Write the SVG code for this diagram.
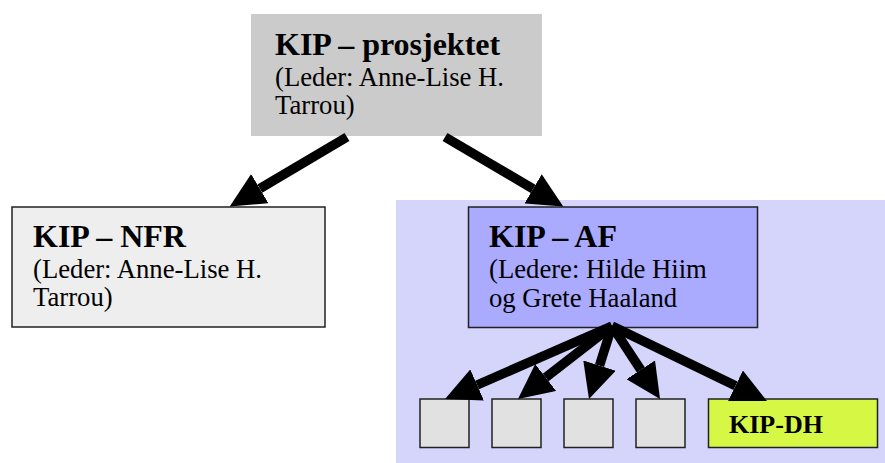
<svg xmlns="http://www.w3.org/2000/svg" width="885" height="463" viewBox="0 0 885 463">
<defs>
<style>
.t{font-family:"Liberation Serif","Times New Roman",serif;fill:#000}
.h{font-size:32px;font-weight:bold}
.s{font-size:26.7px}
.d{font-size:26px;font-weight:bold}
.box{stroke:#222;stroke-width:1.5}
.c{stroke:#000;stroke-width:9.5;fill:none;marker-end:url(#ah)}
</style>
<marker id="ah" markerUnits="userSpaceOnUse" viewBox="0 0 35 34" markerWidth="35" markerHeight="34" refX="0" refY="17" orient="auto">
<path d="M0,0 L35,17 L0,34 Z" fill="#000"/>
</marker>
</defs>
<rect x="0" y="0" width="885" height="463" fill="#fff"/>
<rect id="af-area" x="396" y="200" width="489" height="263" fill="#D5D5FC"/>
<g id="kip-prosjektet">
<rect x="251" y="14" width="291" height="122" fill="#CBCBCB"/>
<text class="t h" x="275" y="55">KIP – prosjektet</text>
<text class="t s" x="275" y="86">(Leder: Anne-Lise H.</text>
<text class="t s" x="275" y="114">Tarrou)</text>
</g>
<g id="kip-nfr">
<rect class="box" x="12" y="207" width="313" height="120" fill="#EEEEEE"/>
<text class="t h" x="33" y="247">KIP – NFR</text>
<text class="t s" x="33" y="278">(Leder: Anne-Lise H.</text>
<text class="t s" x="33" y="306">Tarrou)</text>
</g>
<g id="kip-af">
<rect class="box" x="468.5" y="207" width="289" height="120.5" fill="#AAAAFF"/>
<text class="t h" x="489" y="247">KIP – AF</text>
<text class="t s" x="489" y="278">(Ledere: Hilde Hiim</text>
<text class="t s" x="489" y="307">og Grete Haaland</text>
</g>
<g id="sub1"><rect class="box" x="420" y="399" width="49" height="48.5" fill="#E1E1E1"/></g>
<g id="sub2"><rect class="box" x="492" y="399" width="49" height="48.5" fill="#E1E1E1"/></g>
<g id="sub3"><rect class="box" x="564" y="399" width="49" height="48.5" fill="#E1E1E1"/></g>
<g id="sub4"><rect class="box" x="636" y="399" width="49" height="48.5" fill="#E1E1E1"/></g>
<g id="kip-dh">
<rect class="box" x="708.5" y="399" width="169" height="48.5" fill="#D6F744"/>
<text class="t d" x="729" y="433">KIP-DH</text>
</g>
<g id="connectors">
<line class="c" x1="347" y1="137" x2="259.8" y2="188.7"/>
<line class="c" x1="445" y1="137" x2="533.1" y2="188.8"/>
<line class="c" x1="612" y1="326" x2="477.1" y2="385"/>
<line class="c" x1="612" y1="326" x2="545.65" y2="377.5"/>
<line class="c" x1="612" y1="326" x2="599.5" y2="365.6"/>
<line class="c" x1="612" y1="326" x2="640.8" y2="369.8"/>
<line class="c" x1="612" y1="326" x2="735.5" y2="385.8"/>
</g>
</svg>
